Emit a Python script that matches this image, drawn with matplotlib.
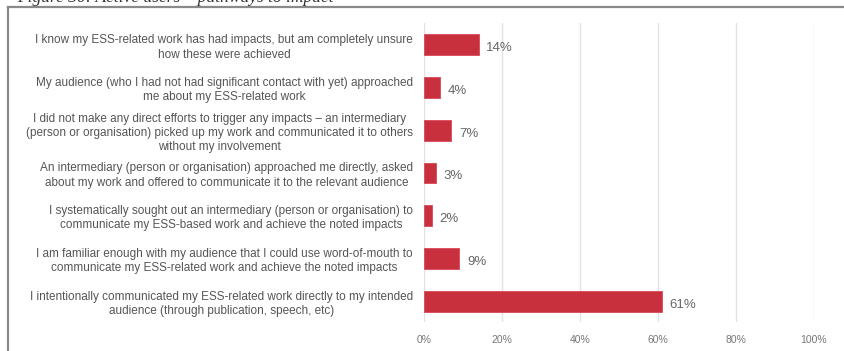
import matplotlib.pyplot as plt
from matplotlib.lines import Line2D
from matplotlib.ticker import PercentFormatter

# pathways to impact, top to bottom
pathways = [
    "I know my ESS-related work has had impacts, but am completely unsure\nhow these were achieved",
    "My audience (who I had not had significant contact with yet) approached\nme about my ESS-related work",
    "I did not make any direct efforts to trigger any impacts \u2013 an intermediary\n(person or organisation) picked up my work and communicated it to others\nwithout my involvement",
    "An intermediary (person or organisation) approached me directly, asked\nabout my work and offered to communicate it to the relevant audience",
    "I systematically sought out an intermediary (person or organisation) to\ncommunicate my ESS-based work and achieve the noted impacts",
    "I am familiar enough with my audience that I could use word-of-mouth to\ncommunicate my ESS-related work and achieve the noted impacts",
    "I intentionally communicated my ESS-related work directly to my intended\naudience (through publication, speech, etc)",
]
share = [14, 4, 7, 3, 2, 9, 61]
x_ticks = [0, 20, 40, 60, 80, 100]

plt.rcParams['font.family'] = ['Liberation Sans', 'DejaVu Sans']

fig = plt.figure(figsize=(8.45, 3.51), dpi=100)
ax = fig.add_axes([0.5018, 0.0812, 0.4615, 0.852])

pos = list(range(len(share)))
bars = ax.barh(pos, share, height=0.49, color='#c8303d', edgecolor='#d9485a', linewidth=0.6, zorder=3)
for b, v in zip(bars, share):
    ax.text(b.get_width() + 2.0, b.get_y() + b.get_height() / 2 + 0.08, f"{v}%",
            va='center', ha='left', fontsize=9.5, color='#666666')

ax.set_xlim(0, 100)
ax.set_ylim(len(share) - 0.5, -0.5)
ax.set_xticks(x_ticks)
ax.xaxis.set_major_formatter(PercentFormatter(decimals=0))
ax.set_yticks(pos)
ax.set_yticklabels(pathways, multialignment='center', fontsize=8.5, color='#555555', linespacing=1.25)
ax.tick_params(axis='y', length=0, pad=8)
ax.tick_params(axis='x', length=0, pad=9, labelsize=7.5, labelcolor='#777777')
ax.grid(axis='x', color='#e3e3e3', linewidth=1, zorder=0)
for s in ax.spines.values():
    s.set_visible(False)

# frame around the figure and the caption clipped above it
fig.add_artist(Line2D([8 / 845, 8 / 845], [0, 1 - 7 / 351], color='#8a8a8a', linewidth=1.6))
fig.add_artist(Line2D([8 / 845, 1], [1 - 7 / 351, 1 - 7 / 351], color='#8a8a8a', linewidth=1.6))
fig.text(17 / 845, 1 - 1.5 / 351, "Figure 30: Active users \u2013 pathways to impact",
         family=['Liberation Serif', 'DejaVu Serif'], style='italic', fontsize=12.5,
         color='#333333', va='baseline', ha='left')

fig.savefig('out.png', dpi=100)
